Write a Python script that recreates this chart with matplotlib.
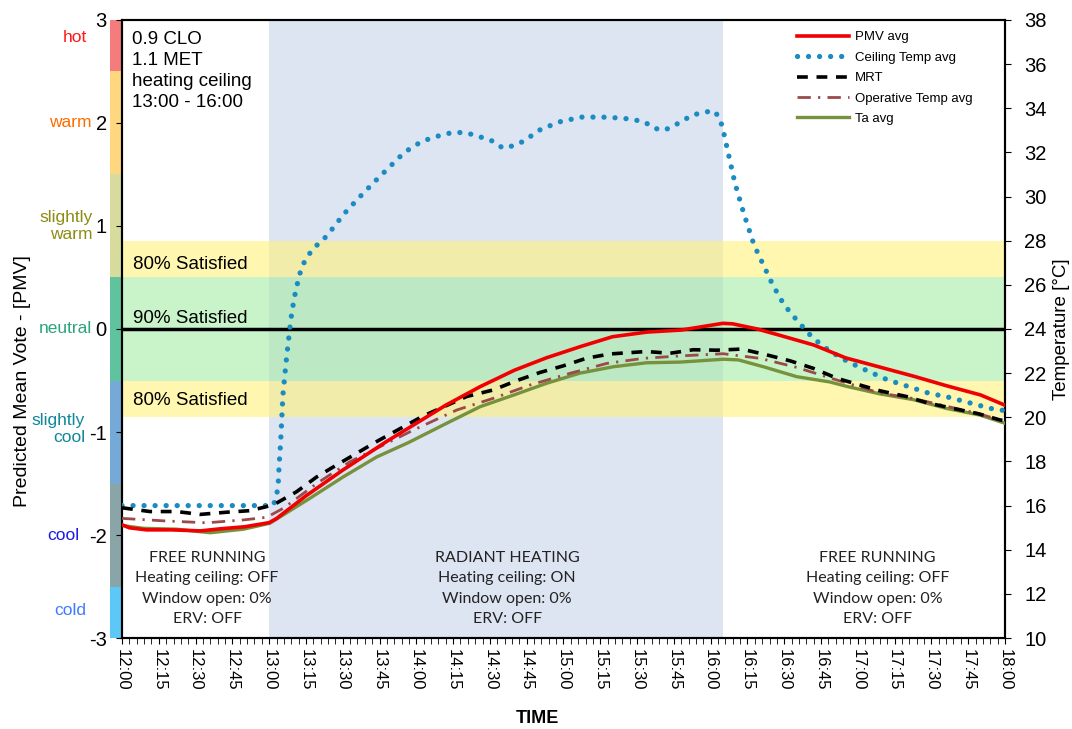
import numpy as np
import matplotlib
matplotlib.use('Agg')
import matplotlib.pyplot as plt
import matplotlib.transforms as mtransforms
from matplotlib.patches import Rectangle

plt.rcParams['font.family'] = ['Liberation Sans', 'DejaVu Sans']
plt.rcParams['axes.unicode_minus'] = False

# minutes after 12:00
ceil_t = [0, 30, 61.7, 63.1, 63.7, 64.1, 64.7, 65.6, 66.9, 68.1, 68.8, 70.2, 72.2, 73.7, 75.7, 78.4,
          81.7, 84.8, 90.4, 96.2, 102.3, 108.7, 115.1, 122.2, 130.5, 134.8, 139.1, 143.5, 151.4, 155.2,
          159.5, 163.6, 170.8, 178.9, 187.3, 195.8, 204.4, 212.8, 216.8, 221.0, 224.9, 232.7, 241.1,
          243.5, 244.9, 246.9, 249.9, 253.6, 257.7, 265.3, 269.9, 275.5, 281.6, 288.5, 296.3, 304.0,
          312.0, 320.4, 328.7, 337.3, 345.7, 354.2, 360]
ceil_v = [16.0, 16.0, 16.0, 16.5, 17.0, 17.9, 18.9, 21.0, 22.5, 23.7, 24.4, 25.4, 26.4, 26.9, 27.3, 27.7,
          28.0, 28.4, 29.2, 29.9, 30.6, 31.3, 32.0, 32.5, 32.8, 32.9, 32.9, 32.8, 32.5, 32.2,
          32.3, 32.5, 33.05, 33.4, 33.6, 33.6, 33.55, 33.4, 33.1, 33.0, 33.2, 33.7, 33.9,
          33.6, 33.1, 32.1, 30.6, 29.2, 27.8, 26.0, 25.1, 24.35, 23.6, 23.0, 22.5, 22.1,
          21.7, 21.4, 21.1, 20.9, 20.65, 20.4, 20.3]

pmv_t = [0, 3, 10, 20, 32, 40, 50, 60, 63, 75, 90, 108, 119, 132, 146, 160, 173, 187, 200, 214,
         228, 245, 249, 259, 268, 282, 295, 309, 323, 336, 350, 360]
pmv_v = [-1.90, -1.93, -1.95, -1.95, -1.96, -1.94, -1.92, -1.88, -1.84, -1.62, -1.37, -1.09, -0.93,
         -0.74, -0.56, -0.40, -0.28, -0.17, -0.075, -0.03, -0.01, 0.055, 0.05, 0.0, -0.06, -0.155,
         -0.28, -0.37, -0.46, -0.55, -0.64, -0.74]

mrt_t = [0, 11.4, 22.3, 31.8, 42.7, 52.2, 61.7, 71.2, 79.4, 87.5, 95.7, 103.8, 122.8, 140.5, 151.4,
         160.9, 170.4, 179.9, 189.5, 199.0, 213.9, 223.4, 232.9, 242.5, 252.6, 262.8, 272.3, 281.8,
         291.4, 300.9, 309.0, 319.9, 328.1, 338.9, 348.5, 358.0, 360]
mrt_v = [15.9, 15.73, 15.73, 15.6, 15.7, 15.77, 16.03, 16.63, 17.3, 17.84, 18.37, 18.9, 20.06, 20.94,
         21.24, 21.66, 22.03, 22.33, 22.68, 22.87, 22.98, 22.9, 23.06, 23.04, 23.09, 22.83, 22.56,
         22.22, 21.77, 21.46, 21.2, 20.94, 20.66, 20.4, 20.18, 19.88, 19.85]

op_t = [0, 16.8, 34.5, 49.5, 59, 65.8, 79.4, 93, 107.9, 118.8, 136.5, 151.4, 166.3, 182.6, 197.6,
        212.5, 227.5, 245.1, 260.1, 275.1, 291.4, 309, 322.6, 336.2, 349.8, 360]
op_v = [15.42, 15.31, 15.22, 15.35, 15.47, 15.88, 17.0, 17.99, 18.82, 19.42, 20.33, 20.86, 21.46,
        21.99, 22.44, 22.67, 22.78, 22.88, 22.67, 22.26, 21.69, 21.1, 20.85, 20.5, 20.15, 19.8]

ta_t = [0, 8.6, 22.3, 35.9, 49.5, 60.3, 76.6, 90.2, 103.8, 116.7, 132.4, 146, 159.5, 173.1, 186.7,
        200.3, 213.9, 227.5, 241.1, 245.1, 251.3, 261.5, 275.1, 288.6, 295.5, 309, 322.6, 336.2,
        349.8, 360]
ta_v = [15.1, 14.97, 14.93, 14.77, 14.93, 15.2, 16.33, 17.3, 18.2, 18.85, 19.73, 20.48, 21.0, 21.54,
        22.0, 22.29, 22.47, 22.5, 22.6, 22.63, 22.6, 22.29, 21.84, 21.6, 21.4, 21.06, 20.8, 20.4,
        20.1, 19.73]

# PMV scale categories
cat_names = ['hot', 'warm', 'slightly\nwarm', 'neutral', 'slightly\ncool', 'cool', 'cold']
cat_lo = [2.5, 1.5, 0.5, -0.5, -1.5, -2.5, -3.0]
cat_hi = [3.0, 2.5, 1.5, 0.5, -0.5, -1.5, -2.5]
cat_label_y = [2.83, 2.0, 1.0, 0.0, -0.97, -2.0, -2.73]
cat_label_x = [-0.040, -0.035, -0.033, -0.034, -0.042, -0.048, -0.040]
cat_bar_col = ['#f47c7c', '#ffd77f', '#d8db9e', '#5fc49e', '#74a9d8', '#8aa5a8', '#5cc8f7']
cat_txt_col = ['#ff1a1a', '#ff6a00', '#8c8c14', '#2ba57a', '#10879a', '#1a1ae0', '#3d7bff']

heat_on, heat_off = 60, 245
tick_min = np.arange(0, 361, 15)
tick_lab = ['%d:%02d' % (12 + m // 60, m % 60) for m in tick_min]

fig = plt.figure(figsize=(10.72, 7.29), dpi=100)
ax = fig.add_axes([0.1138, 0.1248, 0.8237, 0.8478])
ax2 = ax.twinx()

# background bands
ax.axvspan(heat_on, heat_off, color='#dde5f3', zorder=0, lw=0)
ax.axhspan(0.5, 0.85, color='#fff27a', alpha=0.6, zorder=1, lw=0)
ax.axhspan(-0.85, -0.5, color='#fff27a', alpha=0.6, zorder=1, lw=0)
ax.axhspan(-0.5, 0.5, color='#a6eca6', alpha=0.6, zorder=1, lw=0)
ax.axhline(0, color='black', lw=2.5, zorder=2)

# coloured PMV scale bar left of the axis
trans = mtransforms.blended_transform_factory(ax.transAxes, ax.transData)
for lo, hi, c, tc, name, lx, ly in zip(cat_lo, cat_hi, cat_bar_col, cat_txt_col, cat_names,
                                       cat_label_x, cat_label_y):
    ax.add_patch(Rectangle((-0.0136, lo), 0.0136, hi - lo, transform=trans, color=c,
                           clip_on=False, zorder=0, lw=0))
    ax.text(lx, ly, name, transform=trans, ha='right', va='center', color=tc,
            fontsize=12.5, multialignment='right', linespacing=1.15)

ax.set_xlim(0, 360)
ax.set_ylim(-3, 3)
ax2.set_ylim(10, 38)
ax.set_yticks(range(-3, 4))
ax2.set_yticks(range(10, 39, 2))
ax.set_xticks(tick_min)
ax.set_xticklabels(tick_lab, rotation=-90, fontsize=12)
ax.set_xticks(np.arange(0, 361, 3), minor=True)
ax.tick_params(axis='x', which='both', length=4, direction='out', pad=4)
ax.tick_params(axis='y', length=4, pad=7, labelsize=14.5)
ax2.tick_params(axis='y', length=4, pad=10, labelsize=14.5)
for a in (ax, ax2):
    for s in a.spines.values():
        s.set_linewidth(1.5)

# curves
l_ceil, = ax2.plot(ceil_t, ceil_v, color='#1a8cc2', lw=3.8, linestyle=(0, (0.01, 2.08)),
                   dash_capstyle='round', label='Ceiling Temp avg', zorder=3)
l_ta, = ax2.plot(ta_t, ta_v, color='#76923c', lw=2.4, label='Ta avg', zorder=3)
l_op, = ax2.plot(op_t, op_v, color='#9b4a4a', lw=2.0, linestyle=(0, (4.8, 2.6, 0.8, 2.6)),
                 label='Operative Temp avg', zorder=4)
l_mrt, = ax2.plot(mrt_t, mrt_v, color='black', lw=2.6, linestyle=(0, (3, 2.4)), label='MRT', zorder=5)
l_pmv, = ax2.plot(pmv_t, pmv_v, color='#f00000', lw=2.6, transform=ax.transData,
                  label='PMV avg', zorder=6)

leg = ax2.legend(handles=[l_pmv, l_ceil, l_mrt, l_op, l_ta], loc='upper left',
                 bbox_to_anchor=(0.764, 0.982), frameon=False, fontsize=9.5,
                 handlelength=4.0, handletextpad=0.4, labelspacing=0.62,
                 borderpad=0, borderaxespad=0)

# annotations
ax.text(0.011, 0.982, '0.9 CLO\n1.1 MET\nheating ceiling\n13:00 - 16:00', transform=ax.transAxes,
        ha='left', va='top', fontsize=13.5, linespacing=1.3)
ax.text(4.5, 0.63, '80% Satisfied', fontsize=13.5, va='center')
ax.text(4.5, 0.10, '90% Satisfied', fontsize=13.5, va='center')
ax.text(4.5, -0.69, '80% Satisfied', fontsize=13.5, va='center')

blocks = [(34.7, 'FREE RUNNING\nHeating ceiling: OFF\nWindow open: 0%\nERV: OFF'),
          (157, 'RADIANT HEATING\nHeating ceiling: ON\nWindow open: 0%\nERV: OFF'),
          (308, 'FREE RUNNING\nHeating ceiling: OFF\nWindow open: 0%\nERV: OFF')]
for bx, txt in blocks:
    ax.text(bx, -2.52, txt, ha='center', va='center', fontsize=11.5, linespacing=1.6,
            family=['Lato', 'DejaVu Sans'], color='#222222')

fig.text(0.021, 0.477, 'Predicted Mean Vote - [PMV]', rotation=90, ha='center', va='center',
         fontsize=14)
ax2.set_ylabel('Temperature [°C]', fontsize=13.5, labelpad=4)
fig.text(0.501, 0.015, 'TIME', ha='center', va='center', fontsize=13, fontweight='bold')

fig.savefig('out.png', dpi=100)
